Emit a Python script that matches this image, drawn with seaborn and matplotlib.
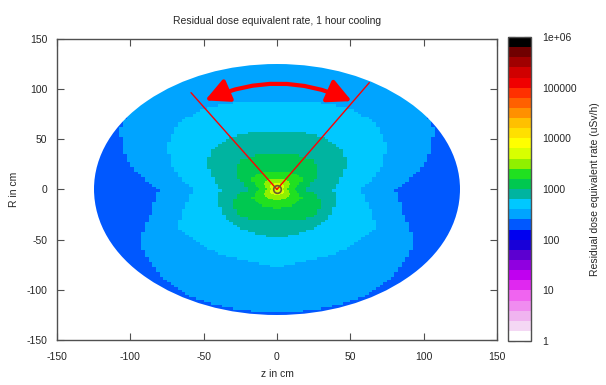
import numpy as np
import matplotlib
matplotlib.use('Agg')
import matplotlib.pyplot as plt
from matplotlib.colors import ListedColormap, BoundaryNorm
from matplotlib.patches import Circle, FancyArrowPatch
from matplotlib.ticker import FixedLocator, NullFormatter
import seaborn as sns

# colour box: 5 bands per decade, from 1 up to 1e+06 uSv/h
band_colors = ['#ffffff', '#f4d8f4', '#f0b4f0', '#f08cf0', '#f064f0',
               '#e028f0', '#c000f0', '#9000e0', '#5c00d0', '#1800d8',
               '#0000f0', '#0058ff', '#00a4ff', '#00c8ff', '#00b4a0',
               '#00c850', '#20e020', '#90f000', '#d8ff00', '#ffff00',
               '#ffe000', '#ffc000', '#ff9000', '#ff6000', '#ff3000',
               '#f00000', '#d00000', '#a00000', '#700000', '#000000']
cbar_ticks = [1, 10, 100, 1000, 10000, 100000, 1e6]
cbar_labels = ['1', '10', '100', '1000', '10000', '100000', '1e+06']

# outer radius of the sphere (cm) and the lowest dose band inside it
sphere_radius = 125
outer_dose = 200

# elevation angle of the read-off directions, degrees from the z axis (+ = up)
angles = [-90, -75, -60, -45, -30, -15, 0, 15, 30, 45, 60, 75, 90]
# radius (cm) inside which the dose is above each level, along each direction
r_251 = [122.5, 122.5, 122, 116, 107, 88, 80, 105, 123, 130, 130, 130, 130]
r_398 = [77, 74, 75, 75, 78, 64, 57, 72, 86, 94, 94, 90, 87]
r_631 = [47, 47, 46, 45, 43, 41, 38, 45, 55, 60, 61, 59, 58]
r_1000 = [31, 32, 35, 36, 35, 29, 18, 24, 33, 37, 38, 36, 35]
r_1585 = [19, 19, 19, 19, 19, 15, 11.5, 15, 20, 20, 19, 18, 17]
r_2512 = [11, 11, 11, 11, 10, 8, 7, 8, 10, 11, 11, 10.5, 10.5]
r_3981 = [6, 6, 6, 6, 5.5, 5, 4, 5, 5.5, 6, 6, 6, 6]
levels = [(300, r_251), (500, r_398), (800, r_631), (1250, r_1000),
          (2000, r_1585), (3200, r_2512), (5000, r_3981)]

sns.set_style('ticks')
plt.rcParams['font.family'] = ['Liberation Sans', 'DejaVu Sans']
plt.rcParams['font.size'] = 7.5
plt.rcParams['axes.unicode_minus'] = False


def dose_mesh(lo, hi, step):
    # R-z mesh, dose of each cell from the band it falls in
    edges = np.arange(lo, hi + step / 2, step)
    mid = (edges[:-1] + edges[1:]) / 2
    zz, rr = np.meshgrid(mid, mid)
    dist = np.hypot(zz, rr)
    elev = np.degrees(np.arctan2(rr, np.abs(zz)))
    dose = np.full(zz.shape, float(outer_dose))
    for value, radii in levels:
        dose[dist < np.interp(elev, angles, radii)] = value
    return edges, np.ma.masked_where(dist > sphere_radius + 4, dose)


cmap = ListedColormap(band_colors)
bounds = 10 ** (np.arange(len(band_colors) + 1) / 5)
norm = BoundaryNorm(bounds, cmap.N)

fig = plt.figure(figsize=(6.06, 3.85), dpi=100)
ax = fig.add_axes([0.094, 0.117, 0.726, 0.782])
cax = fig.add_axes([0.838, 0.114, 0.038, 0.790])

edges, dose = dose_mesh(-130, 130, 2.5)
mesh = ax.pcolormesh(edges, edges, dose, cmap=cmap, norm=norm, shading='flat')
mesh.set_clip_path(Circle((0, 0), sphere_radius, transform=ax.transData))
edges_c, dose_c = dose_mesh(-15, 15, 1.0)
ax.pcolormesh(edges_c, edges_c, dose_c, cmap=cmap, norm=norm, shading='flat')

# opening angle of the region looked at
ax.plot([0, -58.6], [0, 96.4], color='red', lw=1)
ax.plot([0, 63], [0, 106.4], color='red', lw=1)
arc = FancyArrowPatch((-49, 88.7), (51, 88), connectionstyle='arc3,rad=-0.22',
                      arrowstyle='<|-|>,head_length=1.2,head_width=0.6',
                      mutation_scale=12, color='red', lw=3, shrinkA=0, shrinkB=0)
ax.add_patch(arc)
ax.plot(0, 0, 'o', mfc='none', mec='#6a5a30', ms=5.5, mew=1.2)

ax.set_xlim(-150, 150)
ax.set_ylim(-150, 150)
ax.set_xticks(np.arange(-150, 151, 50))
ax.set_yticks(np.arange(-150, 151, 50))
ax.tick_params(direction='in', length=5, width=0.8, top=True, right=True,
               color='#505050', labelsize=7.5)
ax.tick_params(axis='x', pad=9)
ax.tick_params(axis='y', pad=7)
for sp in ax.spines.values():
    sp.set_color('#505050')
    sp.set_linewidth(1.0)
ax.set_xlabel('z in cm', labelpad=5)
ax.set_ylabel('R in cm', labelpad=5)
ax.set_title('Residual dose equivalent rate, 1 hour cooling', fontsize=7.5, pad=11)

cb = fig.colorbar(mesh, cax=cax, ticks=cbar_ticks)
cb.ax.set_yticklabels(cbar_labels)
minor = [m * 10 ** d for d in range(6) for m in range(2, 10)]
cb.ax.yaxis.set_minor_locator(FixedLocator(minor))
cb.ax.yaxis.set_minor_formatter(NullFormatter())
cb.ax.tick_params(which='both', direction='in', left=True, right=True,
                  color='#303030', labelsize=7.5, pad=8)
cb.ax.tick_params(which='major', length=5, width=0.8)
cb.ax.tick_params(which='minor', length=2.5, width=0.6)
cb.outline.set_edgecolor('#505050')
cb.outline.set_linewidth(1.0)
cb.set_label('Residual dose equivalent rate (uSv/h)', fontsize=7.5, labelpad=10)

fig.savefig('out.png', dpi=100)
